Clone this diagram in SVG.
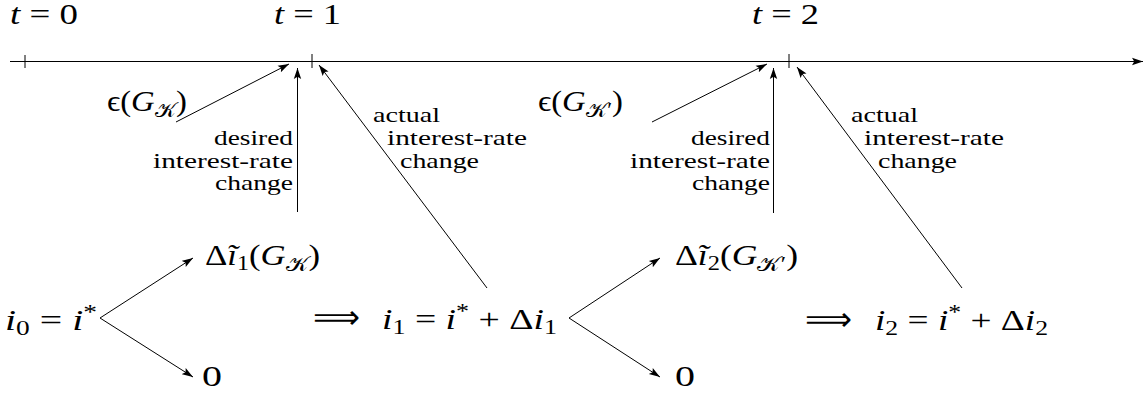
<svg xmlns="http://www.w3.org/2000/svg" width="1144" height="394" viewBox="0 0 1144 394">
<style>
.m{font-family:"Liberation Serif","DejaVu Serif",serif;font-size:29px;fill:#000}
.it{font-style:italic}
.sb{font-size:20px}
.lb{font-family:"Liberation Serif","DejaVu Serif",serif;font-size:22px;fill:#000}
.ln{stroke:#000;stroke-width:1;fill:none}
.ar{marker-end:url(#ah)}
</style>
<defs>
<marker id="ah" markerUnits="userSpaceOnUse" markerWidth="12" markerHeight="9" refX="11" refY="4.5" orient="auto">
<path d="M0,0.8 L11,4.5 L0,8.2 L2.2,4.5 z" fill="#000"/>
</marker>
</defs>
<rect width="1144" height="394" fill="#fff"/>
<g id="connectors">
<path class="ln ar" d="M10,61.5 H1143" style="stroke-width:1.2"/>
<path class="ln" d="M25,55 V68 M312,54 V68 M789,54 V68"/>
<path class="ln ar" d="M176,122 L289,64"/>
<path class="ln ar" d="M652,122 L767,64"/>
<path class="ln ar" d="M297.5,212 V68"/>
<path class="ln ar" d="M773.5,213 V68"/>
<path class="ln ar" d="M487,288 L319,65"/>
<path class="ln ar" d="M962,288 L797,67"/>
<path class="ln ar" d="M100,318 L193,258"/>
<path class="ln ar" d="M100,318 L193,377"/>
<path class="ln ar" d="M569,318 L660,258"/>
<path class="ln ar" d="M569,318 L660,377"/>
</g>
<g id="t0"><text class="m" x="10" y="24" textLength="68" lengthAdjust="spacingAndGlyphs"><tspan class="it">t</tspan> = 0</text></g>
<g id="t1"><text class="m" x="274" y="24" textLength="67" lengthAdjust="spacingAndGlyphs"><tspan class="it">t</tspan> = 1</text></g>
<g id="t2"><text class="m" x="752" y="24" textLength="67" lengthAdjust="spacingAndGlyphs"><tspan class="it">t</tspan> = 2</text></g>
<g id="eps1"><text class="m" x="107" y="111" textLength="80" lengthAdjust="spacingAndGlyphs">ϵ(<tspan class="it">G</tspan><tspan class="sb" dy="6">𝒦</tspan><tspan dy="-6">)</tspan></text></g>
<g id="eps2"><text class="m" x="538" y="111" textLength="85" lengthAdjust="spacingAndGlyphs">ϵ(<tspan class="it">G</tspan><tspan class="sb" dy="6">𝒦′</tspan><tspan dy="-6">)</tspan></text></g>
<g id="desired1">
<text class="lb" x="214" y="145" textLength="79" lengthAdjust="spacingAndGlyphs">desired</text>
<text class="lb" x="153" y="167.5" textLength="140" lengthAdjust="spacingAndGlyphs">interest-rate</text>
<text class="lb" x="215" y="190" textLength="78" lengthAdjust="spacingAndGlyphs">change</text>
</g>
<g id="desired2">
<text class="lb" x="691" y="145" textLength="79" lengthAdjust="spacingAndGlyphs">desired</text>
<text class="lb" x="630" y="167.5" textLength="140" lengthAdjust="spacingAndGlyphs">interest-rate</text>
<text class="lb" x="692" y="190" textLength="78" lengthAdjust="spacingAndGlyphs">change</text>
</g>
<g id="actual1">
<text class="lb" x="373" y="122" textLength="67" lengthAdjust="spacingAndGlyphs">actual</text>
<text class="lb" x="387" y="144.5" textLength="140" lengthAdjust="spacingAndGlyphs">interest-rate</text>
<text class="lb" x="400" y="168" textLength="79" lengthAdjust="spacingAndGlyphs">change</text>
</g>
<g id="actual2">
<text class="lb" x="851" y="122" textLength="67" lengthAdjust="spacingAndGlyphs">actual</text>
<text class="lb" x="864" y="144.5" textLength="140" lengthAdjust="spacingAndGlyphs">interest-rate</text>
<text class="lb" x="878" y="168" textLength="79" lengthAdjust="spacingAndGlyphs">change</text>
</g>
<g id="i0"><text class="m" x="5" y="330" textLength="92" lengthAdjust="spacingAndGlyphs"><tspan class="it">i</tspan><tspan class="sb" dy="5">0</tspan><tspan dy="-5"> = </tspan><tspan class="it">i</tspan><tspan class="sb" dy="-11">*</tspan></text></g>
<g id="di1"><text class="m" x="205" y="265" textLength="115" lengthAdjust="spacingAndGlyphs">Δ<tspan class="it">ĩ</tspan><tspan class="sb" dy="5">1</tspan><tspan dy="-5">(</tspan><tspan class="it">G</tspan><tspan class="sb" dy="6">𝒦</tspan><tspan dy="-6">)</tspan></text></g>
<g id="zero1"><text class="m" x="202" y="386" textLength="20" lengthAdjust="spacingAndGlyphs">0</text></g>
<g id="imp1"><text class="m" x="313" y="328" textLength="47" lengthAdjust="spacingAndGlyphs" style="font-family:'DejaVu Sans',sans-serif;font-size:32px">⟹</text></g>
<g id="i1"><text class="m" x="382" y="329" textLength="175" lengthAdjust="spacingAndGlyphs"><tspan class="it">i</tspan><tspan class="sb" dy="5">1</tspan><tspan dy="-5"> = </tspan><tspan class="it">i</tspan><tspan class="sb" dy="-11">*</tspan><tspan dy="11"> + Δ</tspan><tspan class="it">i</tspan><tspan class="sb" dy="5">1</tspan></text></g>
<g id="di2"><text class="m" x="675" y="265" textLength="123" lengthAdjust="spacingAndGlyphs">Δ<tspan class="it">ĩ</tspan><tspan class="sb" dy="5">2</tspan><tspan dy="-5">(</tspan><tspan class="it">G</tspan><tspan class="sb" dy="6">𝒦′</tspan><tspan dy="-6">)</tspan></text></g>
<g id="zero2"><text class="m" x="675" y="386" textLength="20" lengthAdjust="spacingAndGlyphs">0</text></g>
<g id="imp2"><text class="m" x="805" y="330" textLength="47" lengthAdjust="spacingAndGlyphs" style="font-family:'DejaVu Sans',sans-serif;font-size:32px">⟹</text></g>
<g id="i2"><text class="m" x="875" y="330" textLength="173" lengthAdjust="spacingAndGlyphs"><tspan class="it">i</tspan><tspan class="sb" dy="5">2</tspan><tspan dy="-5"> = </tspan><tspan class="it">i</tspan><tspan class="sb" dy="-11">*</tspan><tspan dy="11"> + Δ</tspan><tspan class="it">i</tspan><tspan class="sb" dy="5">2</tspan></text></g>
</svg>
